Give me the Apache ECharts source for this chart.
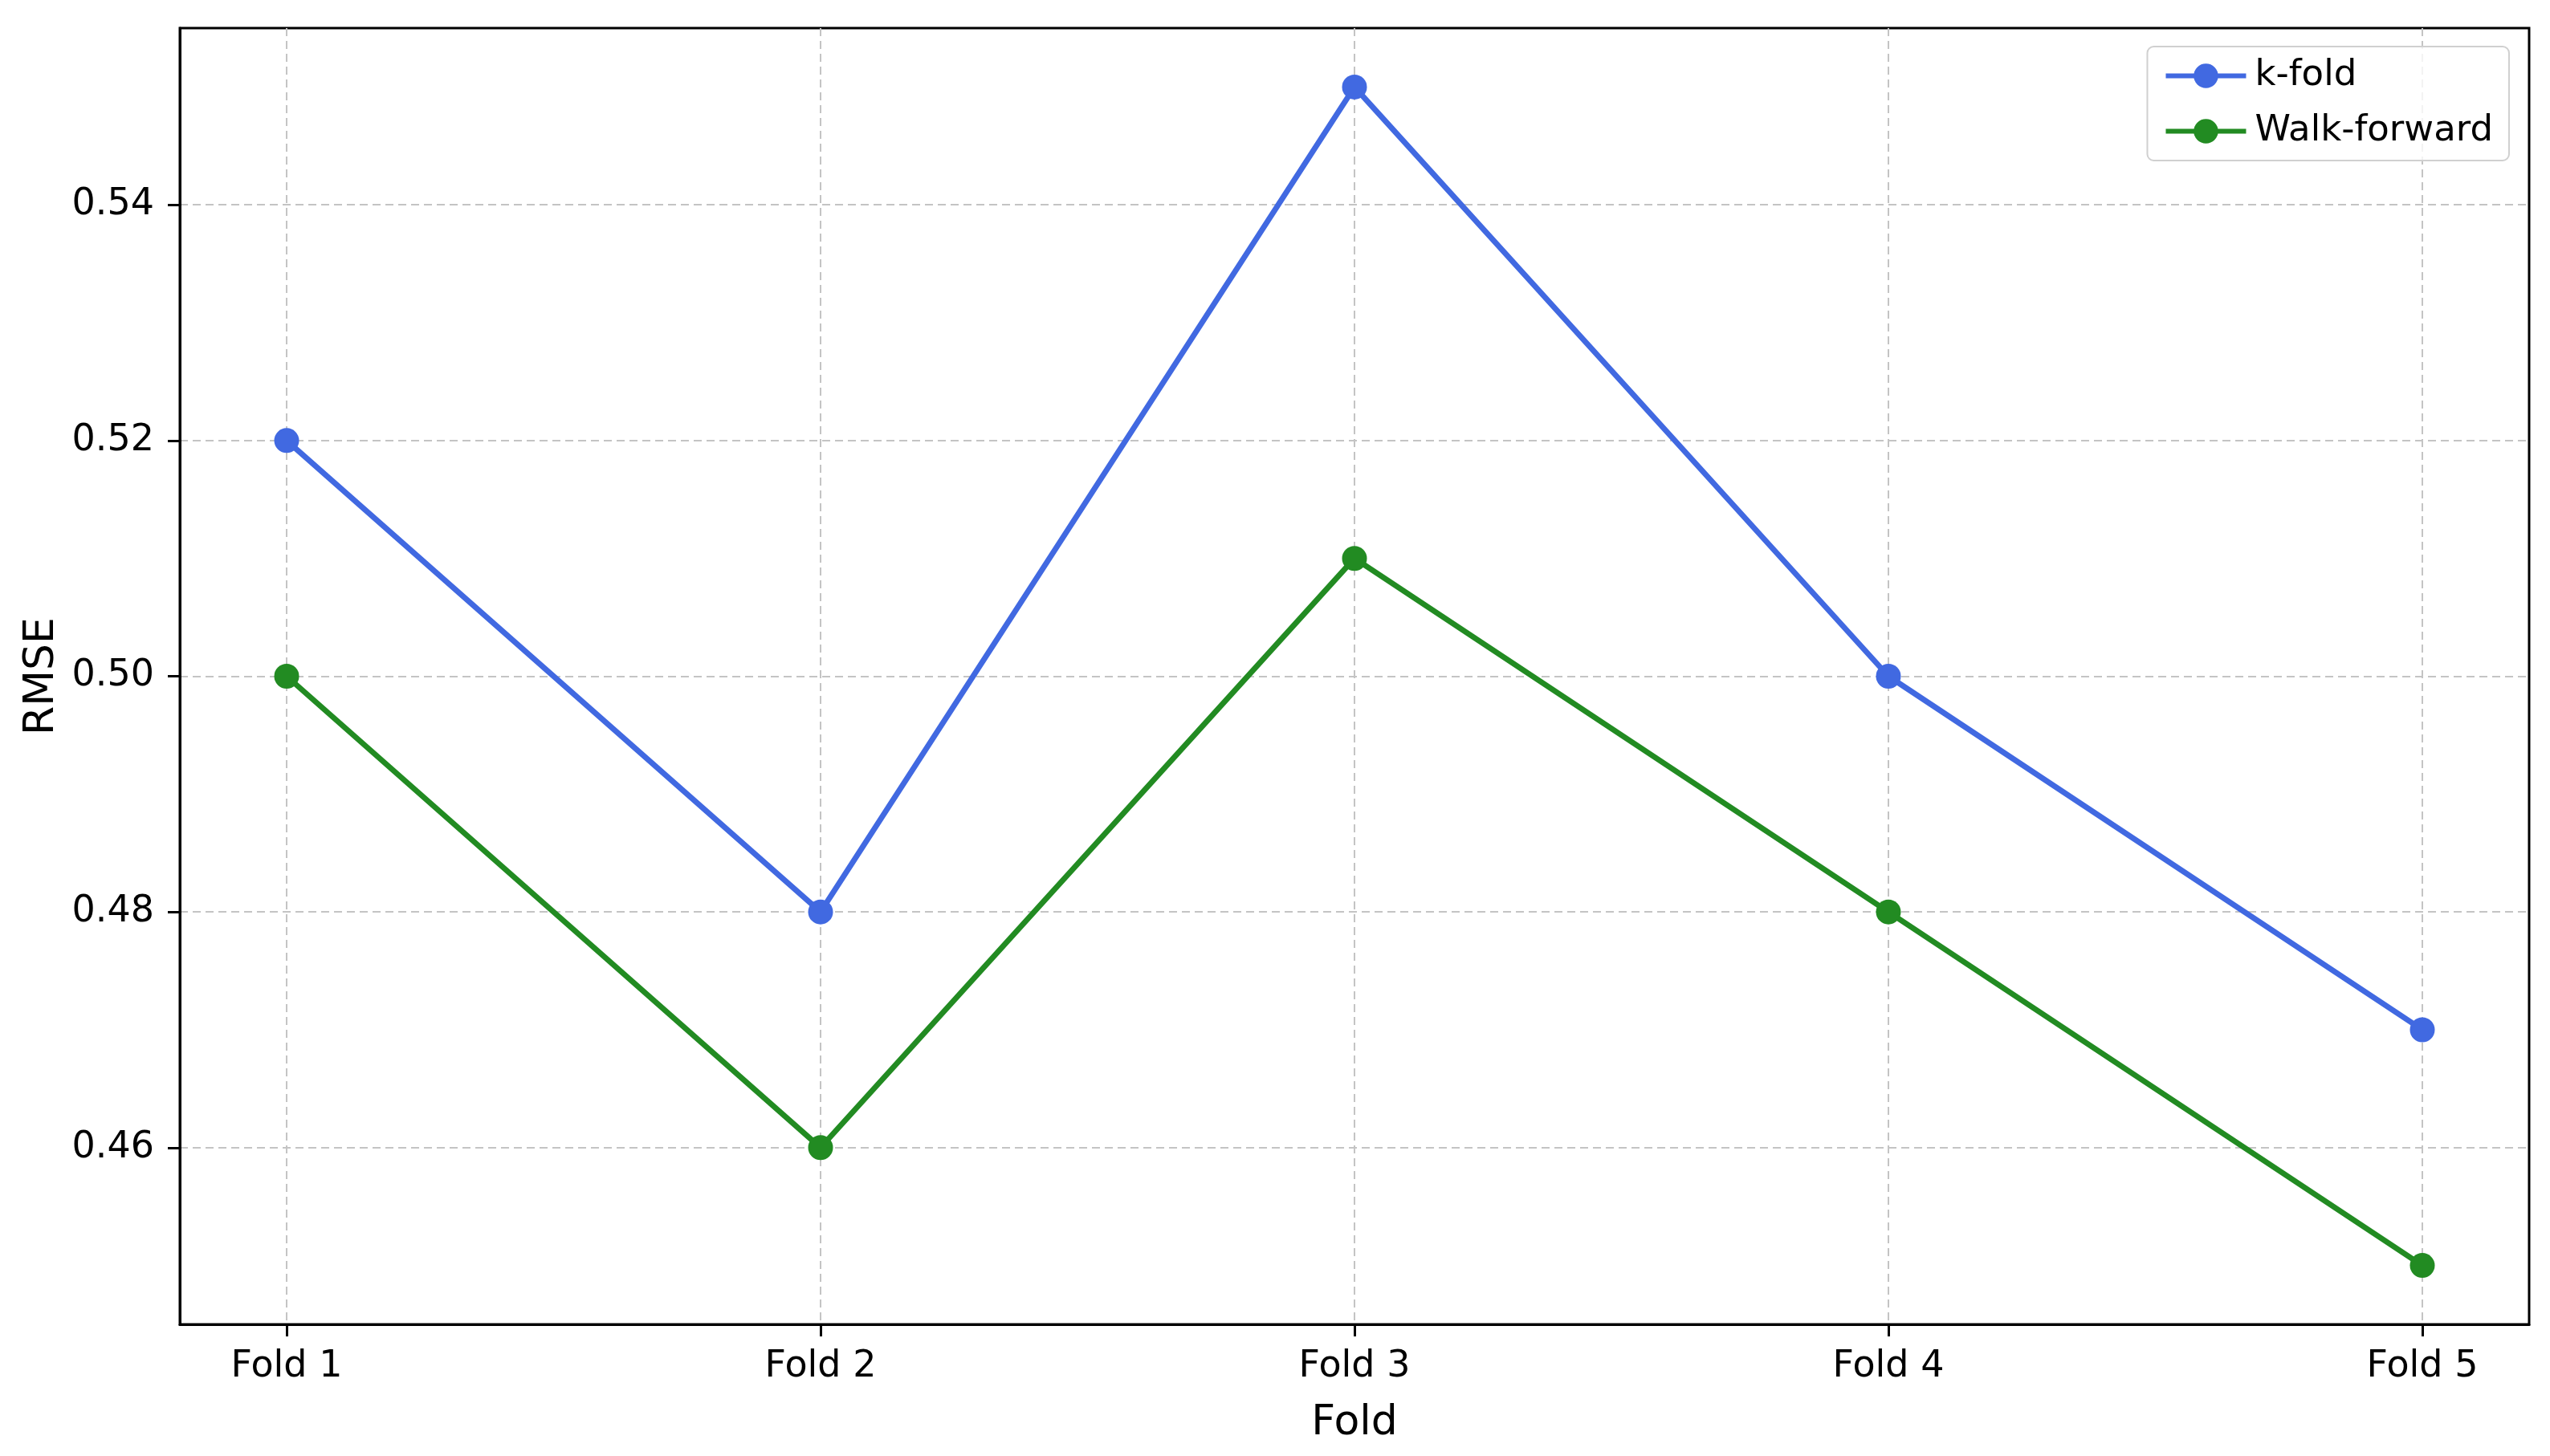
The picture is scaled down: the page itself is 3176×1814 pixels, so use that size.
<!DOCTYPE html>
<html>
<head>
<meta charset="utf-8">
<script src="https://cdn.jsdelivr.net/npm/echarts@6/dist/echarts.min.js"></script>
<style>
html,body{margin:0;padding:0;background:#fff;}
#chart{width:3176px;height:1814px;}
</style>
</head>
<body>
<div id="chart"></div>
<script>
const categories = ['Fold 1', 'Fold 2', 'Fold 3', 'Fold 4', 'Fold 5'];
const kfold = [0.52, 0.48, 0.55, 0.50, 0.47];
const walkForward = [0.50, 0.46, 0.51, 0.48, 0.45];
const yTicks = [0.46, 0.48, 0.50, 0.52, 0.54];
const xTicks = categories.map((c, i) => i);

const FONT = 'DejaVu Sans';
const chart = echarts.init(document.getElementById('chart'), null, {renderer: 'canvas'});

function toPairs(arr) { return arr.map((v, i) => [i, v]); }

const gridLine = {show: true, lineStyle: {color: '#c4c4c4', width: 2, type: [10, 6]}};

chart.setOption({
  backgroundColor: '#fff',
  animation: false,
  grid: {left: 224, right: 26, top: 35, bottom: 164, show: true, borderColor: '#000', borderWidth: 3, backgroundColor: 'transparent', containLabel: false},
  legend: {
    right: 51, top: 58, orient: 'vertical', align: 'left',
    itemWidth: 100, itemHeight: 38, itemGap: 24, itemTextGap: 26,
    padding: [14, 20, 14, 20],
    lineStyle: {width: 6},
    backgroundColor: 'rgba(255,255,255,0.8)', borderColor: '#d0d0d0', borderWidth: 2, borderRadius: 8,
    textStyle: {fontFamily: FONT, fontSize: 45, color: '#000', padding: [0, 0, 0, 6]},
    data: ['k-fold', 'Walk-forward']
  },
  xAxis: {
    type: 'value', min: -0.2, max: 4.2,
    name: 'Fold', nameLocation: 'middle', nameGap: 97,
    nameTextStyle: {fontFamily: FONT, fontSize: 52, color: '#000'},
    axisLine: {show: true, onZero: false, lineStyle: {color: '#000', width: 3}},
    axisTick: {show: true, customValues: xTicks, length: 15, lineStyle: {color: '#000', width: 3}},
    axisLabel: {customValues: xTicks, margin: 30, fontFamily: FONT, fontSize: 46, color: '#000',
      formatter: v => categories[Math.round(v)]},
    splitLine: gridLine
  },
  yAxis: {
    type: 'value', min: 0.445, max: 0.555,
    name: 'RMSE', nameLocation: 'middle', nameGap: 144,
    nameTextStyle: {fontFamily: FONT, fontSize: 52, color: '#000'},
    axisLine: {show: true, onZero: false, lineStyle: {color: '#000', width: 3}},
    axisTick: {show: true, customValues: yTicks, length: 15, lineStyle: {color: '#000', width: 3}},
    axisLabel: {customValues: yTicks, margin: 32, fontFamily: FONT, fontSize: 46, color: '#000',
      formatter: v => v.toFixed(2)},
    splitLine: gridLine
  },
  series: [
    {name: 'k-fold', type: 'line', data: toPairs(kfold), symbol: 'circle', symbolSize: 31,
      itemStyle: {color: '#4169E1'}, lineStyle: {color: '#4169E1', width: 7}, z: 3},
    {name: 'Walk-forward', type: 'line', data: toPairs(walkForward), symbol: 'circle', symbolSize: 31,
      itemStyle: {color: '#228B22'}, lineStyle: {color: '#228B22', width: 7}, z: 3}
  ]
});
</script>
</body>
</html>
